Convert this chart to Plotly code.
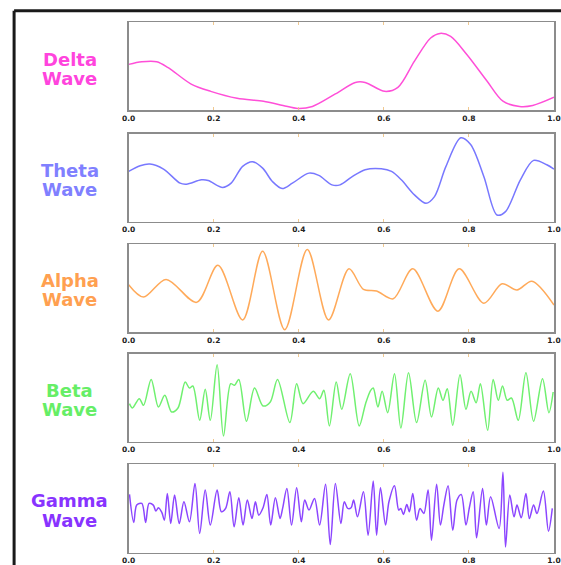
import plotly.graph_objects as go

W, H = 561, 565

tick_vals = [0.0, 0.2, 0.4, 0.6, 0.8, 1.0]
tick_text = ["0.0", "0.2", "0.4", "0.6", "0.8", "1.0"]

wave_names = ["Delta", "Theta", "Alpha", "Beta", "Gamma"]
line_colors = ["#ff4fd8", "#7878ff", "#ffaa5a", "#70f070", "#8c46ff"]
label_colors = ["#ff44dd", "#8080ff", "#ffa050", "#66ee66", "#8833ff"]

delta_x = [0, 0.031, 0.066, 0.093, 0.147, 0.193, 0.255, 0.317, 0.363, 0.398, 0.432,
           0.486, 0.533, 0.556, 0.602, 0.633, 0.672, 0.710, 0.732, 0.757, 0.795,
           0.842, 0.880, 0.919, 0.950, 1.0]
delta_y = [52.2, 55.2, 55.2, 48.5, 29.9, 21.6, 13.8, 10.4, 5.6, 2.2, 4.5,
           18.7, 31.7, 31.7, 21.6, 26.1, 55.9, 82.1, 87.3, 83.9, 63.4,
           33.6, 10.4, 4.5, 5.6, 14.9]

theta_x = [0, 0.027, 0.05, 0.082, 0.121, 0.136, 0.171, 0.187, 0.221, 0.241, 0.268,
           0.291, 0.315, 0.338, 0.361, 0.385, 0.424, 0.447, 0.478, 0.497, 0.524,
           0.556, 0.594, 0.618, 0.641, 0.672, 0.699, 0.719, 0.746, 0.781, 0.804,
           0.835, 0.866, 0.886, 0.921, 0.952, 0.983, 1.0]
theta_y = [57.0, 63.5, 65.4, 59.7, 43.7, 42.6, 47.5, 46.8, 38.8, 43.7, 62.7,
           68.1, 60.8, 45.6, 37.6, 43.7, 55.1, 52.5, 41.8, 41.8, 50.6,
           59.0, 60.1, 57.0, 47.5, 30.4, 20.9, 28.5, 62.7, 95.1, 87.5,
           51.3, 7.6, 11.4, 47.5, 69.6, 64.6, 59.7]

alpha_x = [0, 0.035, 0.088, 0.16, 0.21, 0.268, 0.315, 0.367, 0.42, 0.47, 0.518,
           0.552, 0.583, 0.622, 0.668, 0.727, 0.777, 0.835, 0.878, 0.913, 0.948, 1.0]
alpha_y = [54, 40, 60, 34, 76, 14, 92, 3, 94, 14, 72,
           48.7, 46.8, 38, 72, 24, 72, 33, 55, 48, 58, 31]

beta_x = [0.002, 0.009, 0.025, 0.035, 0.053, 0.070, 0.085, 0.101, 0.116, 0.133,
          0.143, 0.151, 0.167, 0.180, 0.192, 0.208, 0.223, 0.240, 0.249, 0.259,
          0.277, 0.296, 0.316, 0.333, 0.350, 0.379, 0.395, 0.410, 0.434, 0.449,
          0.459, 0.472, 0.488, 0.501, 0.521, 0.542, 0.557, 0.569, 0.575, 0.586,
          0.596, 0.609, 0.625, 0.640, 0.658, 0.677, 0.697, 0.712, 0.728, 0.739,
          0.749, 0.762, 0.779, 0.793, 0.805, 0.817, 0.827, 0.844, 0.857, 0.869,
          0.879, 0.890, 0.900, 0.916, 0.934, 0.952, 0.973, 0.988, 0.998]
beta_y = [43.4, 38.5, 49.1, 41.5, 70.9, 39.6, 52.8, 34.0, 38.5, 67.9,
          61.1, 63.4, 24.5, 59.6, 24.5, 87.5, 6.8, 66.0, 64.2, 70.9,
          23.4, 61.1, 40.8, 45.3, 70.9, 21.9, 66.0, 43.4, 57.4, 49.1,
          58.5, 18.1, 67.9, 37.0, 77.4, 18.1, 43.4, 58.5, 61.1, 39.6,
          57.4, 33.2, 77.4, 15.8, 78.5, 21.9, 69.8, 28.3, 61.1, 47.2,
          60.4, 18.9, 76.2, 37.0, 57.4, 44.5, 66.0, 13.2, 70.9, 47.2,
          63.4, 47.2, 49.8, 24.5, 78.5, 23.4, 71.7, 33.2, 56.6]

gamma_x = [0.002, 0.012, 0.019, 0.031, 0.040, 0.048, 0.058, 0.064, 0.070, 0.078,
           0.084, 0.091, 0.099, 0.108, 0.119, 0.130, 0.143, 0.156, 0.167, 0.180,
           0.192, 0.208, 0.218, 0.228, 0.238, 0.248, 0.259, 0.269, 0.279, 0.290,
           0.298, 0.306, 0.316, 0.325, 0.334, 0.345, 0.356, 0.362, 0.372, 0.383,
           0.395, 0.406, 0.414, 0.424, 0.437, 0.449, 0.463, 0.474, 0.486, 0.499,
           0.507, 0.515, 0.523, 0.529, 0.538, 0.552, 0.563, 0.575, 0.583, 0.592,
           0.604, 0.612, 0.625, 0.635, 0.640, 0.646, 0.654, 0.660, 0.668, 0.677,
           0.685, 0.694, 0.704, 0.712, 0.724, 0.733, 0.741, 0.751, 0.762, 0.772,
           0.782, 0.793, 0.801, 0.810, 0.818, 0.832, 0.841, 0.851, 0.871, 0.880,
           0.886, 0.896, 0.906, 0.913, 0.923, 0.934, 0.942, 0.952, 0.960, 0.975,
           0.987, 0.996]
gamma_y = [65.9, 34.1, 53.8, 55.7, 34.1, 55.7, 53.8, 47.0, 50.8, 45.5,
           36.7, 67.0, 33.0, 65.2, 33.0, 57.6, 34.8, 78.4, 21.6, 70.8,
           31.1, 70.8, 46.2, 50.0, 68.9, 29.2, 62.1, 31.1, 59.5, 38.6,
           57.6, 42.4, 50.8, 65.9, 31.1, 62.1, 38.6, 50.0, 72.7, 31.1,
           73.5, 34.8, 59.5, 48.1, 61.4, 31.1, 77.3, 9.1, 78.4, 33.0,
           57.6, 50.0, 50.8, 59.5, 40.5, 68.9, 19.7, 81.1, 19.7, 73.5,
           31.1, 57.6, 75.8, 48.1, 50.0, 43.2, 54.5, 46.2, 67.0, 36.7,
           50.0, 44.3, 70.8, 14.0, 77.3, 31.1, 53.8, 75.8, 25.4, 59.5,
           65.9, 31.1, 50.8, 68.9, 16.7, 72.7, 31.1, 63.3, 27.3, 90.9,
           6.4, 65.2, 40.5, 53.8, 39.4, 67.0, 38.6, 53.8, 44.3, 69.7,
           24.2, 50.0]

series = [(delta_x, delta_y), (theta_x, theta_y), (alpha_x, alpha_y),
          (beta_x, beta_y), (gamma_x, gamma_y)]

# horizontal placement: the page shows the paper region over about
# 6.6 .. 554 screen pixels, so convert target screen x to paper fractions
SX0, SXW = 6.6, 547.3


def px_to_paper_x(px):
    return min(1.0, max(0.0, (px - SX0) / SXW))


plot_left, plot_right = 128.3, 559.0
panel_tops = [22.3, 134.0, 245.0, 355.0, 466.0]
panel_h = 88.5
label_cx = 69.5
label_first = [59.7, 170.8, 281.5, 391.7, 502.5]
label_gap = 19.5

fig = go.Figure()
layout = dict(
    width=W, height=H,
    margin=dict(l=0, r=0, t=0, b=0),
    paper_bgcolor="white", plot_bgcolor="white",
    showlegend=False,
    annotations=[], shapes=[],
)

for i, ((xs, ys), name) in enumerate(zip(series, wave_names)):
    xa = "x" if i == 0 else f"x{i+1}"
    ya = "y" if i == 0 else f"y{i+1}"
    fig.add_trace(go.Scatter(
        x=xs, y=ys, mode="lines", xaxis=xa, yaxis=ya,
        line=dict(color=line_colors[i], width=1.5, shape="spline", smoothing=0.9),
        hoverinfo="skip",
    ))
    top = panel_tops[i]
    bot = top + panel_h
    xkey = "xaxis" if i == 0 else f"xaxis{i+1}"
    ykey = "yaxis" if i == 0 else f"yaxis{i+1}"
    layout[xkey] = dict(
        domain=[px_to_paper_x(plot_left), px_to_paper_x(plot_right)],
        anchor=ya, range=[0, 1],
        showgrid=False, zeroline=False,
        showline=True, linecolor="#8c8c8c", linewidth=1.5, mirror="ticks",
        ticks="inside", ticklen=3, tickcolor="#f0c890", tickwidth=1,
        tickvals=tick_vals, ticktext=tick_text, ticklabeloverflow="allow",
        tickfont=dict(family="DejaVu Sans", size=7.5, color="#222222", weight="bold"),
        ticklabelstandoff=0,
    )
    layout[ykey] = dict(
        domain=[1 - bot / H, 1 - top / H],
        anchor=xa, range=[0, 100],
        showgrid=False, zeroline=False,
        showline=True, linecolor="#8c8c8c", linewidth=1.5, mirror=True,
        showticklabels=False, ticks="",
    )
    for j, word in enumerate([name, "Wave"]):
        layout["annotations"].append(dict(
            x=px_to_paper_x(label_cx), y=1 - (label_first[i] + j * label_gap) / H,
            xref="paper", yref="paper", xanchor="center", yanchor="middle",
            text=word, showarrow=False,
            font=dict(family="DejaVu Sans", size=18, color=label_colors[i], weight="bold"),
        ))

# outer black frame (cut off at right and bottom)
fx, fy = px_to_paper_x(13.7), 1 - 10.7 / H
layout["shapes"] = [
    dict(type="line", xref="paper", yref="paper", x0=fx, x1=1.1, y0=fy, y1=fy,
         line=dict(color="#1a1a1a", width=3)),
    dict(type="line", xref="paper", yref="paper", x0=fx, x1=fx, y0=-0.1, y1=fy,
         line=dict(color="#1a1a1a", width=3)),
]

fig.update_layout(**layout)
fig.write_html(
    "out.html",
    config={"displayModeBar": False, "staticPlot": True},
    post_script="document.body.style.margin='0';document.body.style.overflow='hidden';",
)
